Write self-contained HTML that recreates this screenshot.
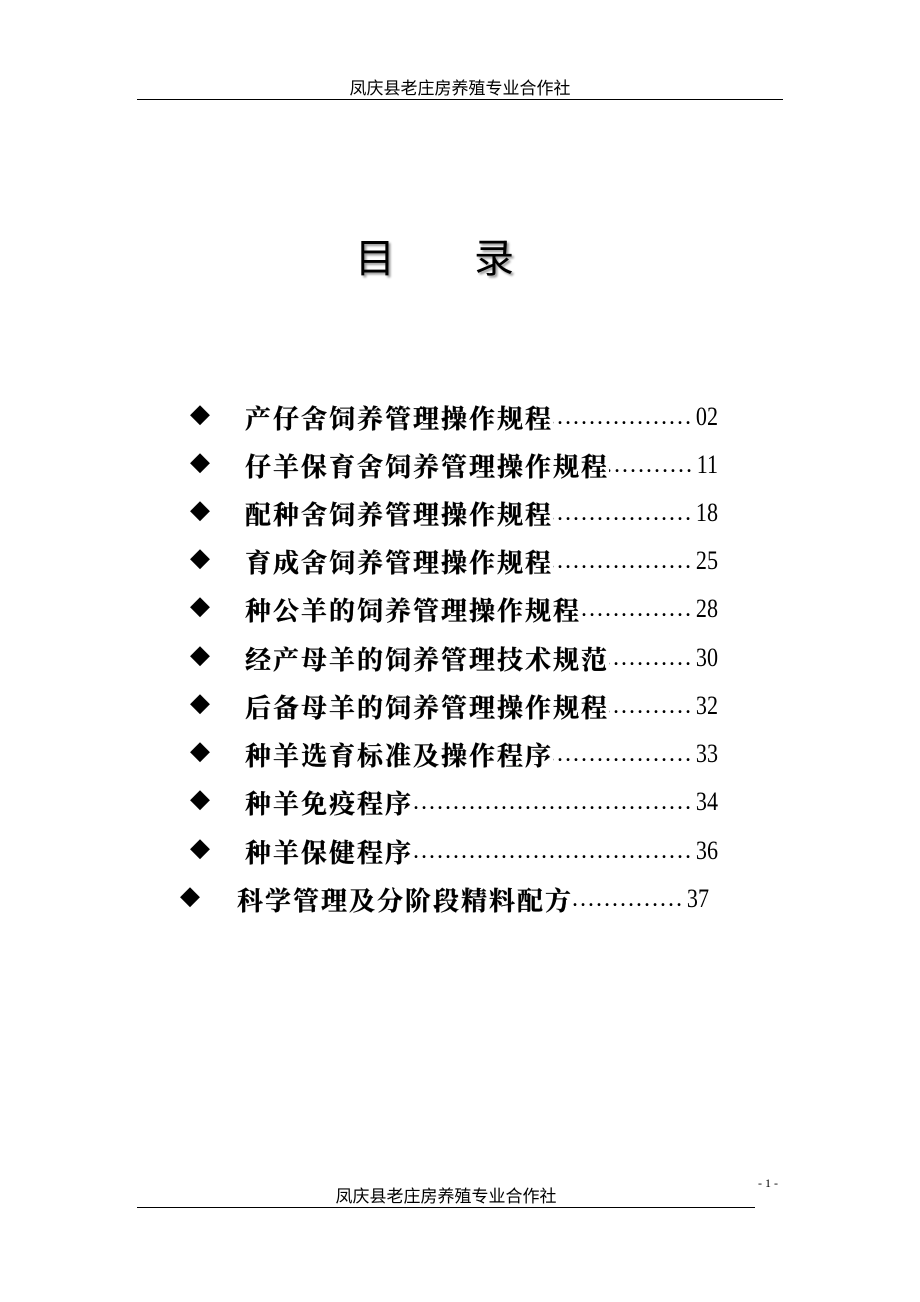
<!DOCTYPE html>
<html><head><meta charset="utf-8"><style>
body{margin:0;width:920px;height:1302px;background:#fff;position:relative;overflow:hidden;font-family:"Liberation Serif","Noto Serif CJK SC",serif;color:#000}
.a{position:absolute}
.hd{font-family:"Liberation Sans","Noto Sans CJK SC",sans-serif;font-size:17px;white-space:nowrap}
.ttl{font-family:"Liberation Sans","Noto Sans CJK SC",sans-serif;font-size:40px;top:226px;text-shadow:2px 2px 2px #999}
.row{position:absolute;height:36px;display:flex;align-items:center;font-size:26px;white-space:nowrap}
.row .t{letter-spacing:2px;font-weight:bold;-webkit-text-stroke:0.3px #000}
.row .d{flex:1;overflow:hidden;font-size:24px;white-space:nowrap;text-align:right;direction:rtl}
.row .n{font-family:"Liberation Serif",serif;font-size:26px;transform:scaleX(0.85);transform-origin:right}
.dm{position:absolute;font-size:26px;font-family:"DejaVu Sans",sans-serif}
</style></head><body>
<div class="a hd" style="left:0;width:920px;text-align:center;top:74px">凤庆县老庄房养殖专业合作社</div>
<div class="a" style="left:137px;top:99px;width:646px;height:1px;background:#000"></div>
<div class="a ttl" style="left:355px">目</div>
<div class="a ttl" style="left:474px">录</div>

<div class="dm" style="left:190px;top:399px">◆</div>
<div class="row" style="left:245px;width:473px;top:399px"><span class="t">产仔舍饲养管理操作规程</span><span class="d">………………………………………</span><span class="n">02</span></div>
<div class="dm" style="left:190px;top:447px">◆</div>
<div class="row" style="left:245px;width:473px;top:447px"><span class="t">仔羊保育舍饲养管理操作规程</span><span class="d">………………………………………</span><span class="n">11</span></div>
<div class="dm" style="left:190px;top:495px">◆</div>
<div class="row" style="left:245px;width:473px;top:495px"><span class="t">配种舍饲养管理操作规程</span><span class="d">………………………………………</span><span class="n">18</span></div>
<div class="dm" style="left:190px;top:543px">◆</div>
<div class="row" style="left:245px;width:473px;top:543px"><span class="t">育成舍饲养管理操作规程</span><span class="d">………………………………………</span><span class="n">25</span></div>
<div class="dm" style="left:190px;top:591px">◆</div>
<div class="row" style="left:245px;width:473px;top:591px"><span class="t">种公羊的饲养管理操作规程</span><span class="d">………………………………………</span><span class="n">28</span></div>
<div class="dm" style="left:190px;top:640px">◆</div>
<div class="row" style="left:245px;width:473px;top:640px"><span class="t">经产母羊的饲养管理技术规范</span><span class="d">………………………………………</span><span class="n">30</span></div>
<div class="dm" style="left:190px;top:688px">◆</div>
<div class="row" style="left:245px;width:473px;top:688px"><span class="t">后备母羊的饲养管理操作规程</span><span class="d">………………………………………</span><span class="n">32</span></div>
<div class="dm" style="left:190px;top:736px">◆</div>
<div class="row" style="left:245px;width:473px;top:736px"><span class="t">种羊选育标准及操作程序</span><span class="d">………………………………………</span><span class="n">33</span></div>
<div class="dm" style="left:190px;top:784px">◆</div>
<div class="row" style="left:245px;width:473px;top:784px"><span class="t">种羊免疫程序</span><span class="d">………………………………………</span><span class="n">34</span></div>
<div class="dm" style="left:190px;top:833px">◆</div>
<div class="row" style="left:245px;width:473px;top:833px"><span class="t">种羊保健程序</span><span class="d">………………………………………</span><span class="n">36</span></div>
<div class="dm" style="left:180px;top:881px">◆</div>
<div class="row" style="left:237px;width:472px;top:881px"><span class="t">科学管理及分阶段精料配方</span><span class="d">………………………………………</span><span class="n">37</span></div>

<div class="a" style="left:758px;top:1176px;font-size:12px;font-family:'Liberation Serif',serif">- 1 -</div>
<div class="a hd" style="left:0;width:892px;text-align:center;top:1182px">凤庆县老庄房养殖专业合作社</div>
<div class="a" style="left:137px;top:1207px;width:618px;height:1px;background:#000"></div>
</body></html>
